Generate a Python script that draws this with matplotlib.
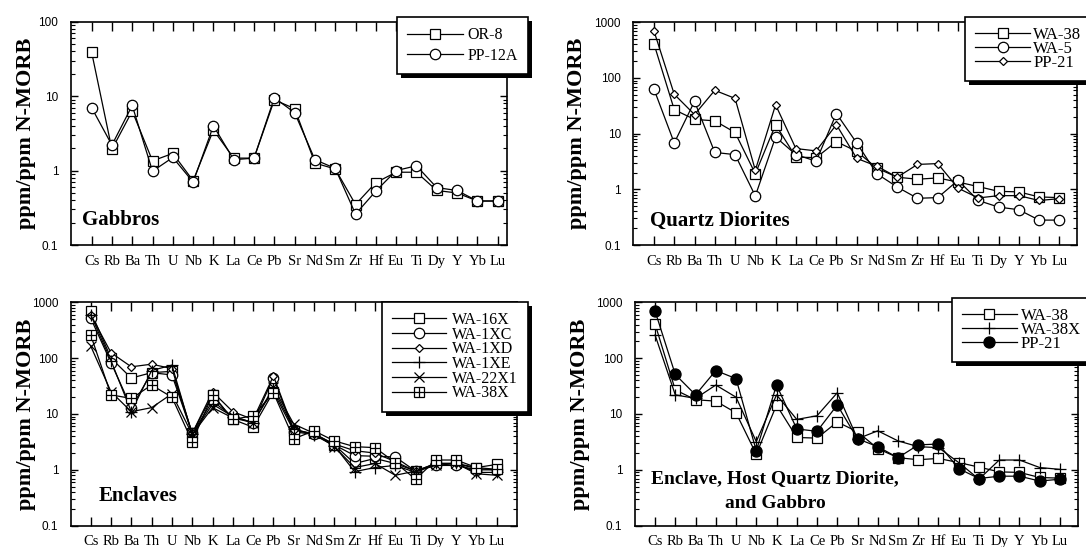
import matplotlib
matplotlib.use('Agg')
import matplotlib.pyplot as plt
import numpy as np
from matplotlib.ticker import LogLocator, NullFormatter, FuncFormatter
from matplotlib.legend_handler import HandlerTuple
from matplotlib.patches import Rectangle
from matplotlib.transforms import IdentityTransform

# ---------------- data ----------------
elements = ['Cs', 'Rb', 'Ba', 'Th', 'U', 'Nb', 'K', 'La', 'Ce', 'Pb', 'Sr',
            'Nd', 'Sm', 'Zr', 'Hf', 'Eu', 'Ti', 'Dy', 'Y', 'Yb', 'Lu']

# Gabbros
OR_8 = [39, 1.93, 6.3, 1.35, 1.7, 0.73, 3.5, 1.47, 1.47, 8.9, 6.8,
        1.26, 1.05, 0.35, 0.69, 0.95, 0.95, 0.54, 0.50, 0.39, 0.39]
PP_12A = [7.0, 2.2, 7.5, 0.98, 1.5, 0.70, 4.0, 1.40, 1.47, 9.5, 6.0,
          1.40, 1.07, 0.26, 0.53, 1.0, 1.16, 0.59, 0.54, 0.39, 0.39]

# Quartz diorites
WA_38 = [410, 27, 18, 17, 10.5, 1.9, 14.5, 3.8, 3.7, 7.2, 4.8,
         2.4, 1.65, 1.52, 1.6, 1.35, 1.12, 0.92, 0.90, 0.73, 0.71]
WA_5 = [63, 6.8, 38, 4.6, 4.2, 0.76, 8.7, 4.2, 3.2, 23, 6.8,
        1.9, 1.1, 0.69, 0.71, 1.45, 0.63, 0.48, 0.43, 0.28, 0.28]
PP_21 = [700, 51, 22, 60, 43, 2.2, 33, 5.4, 4.9, 14.5, 3.6,
         2.6, 1.65, 2.8, 2.9, 1.05, 0.70, 0.77, 0.77, 0.63, 0.68]

# Enclaves
WA_16X = [690, 100, 44, 55, 58, 4.5, 22, 8.0, 5.8, 25, 5.0,
          4.5, 2.8, 1.3, 1.6, 1.3, 0.95, 1.3, 1.3, 1.1, 1.25]
WA_1XC = [520, 83, 13, 55, 50, 4.5, 17, 9.0, 7.0, 45, 4.8,
          4.3, 2.8, 1.8, 1.75, 1.7, 0.95, 1.2, 1.2, 1.0, 1.0]
WA_1XD = [600, 125, 70, 78, 65, 4.5, 25, 11, 8.0, 48, 5.2,
          4.4, 2.9, 2.2, 2.0, 1.4, 0.95, 1.3, 1.3, 1.05, 1.0]
WA_1XE = [600, 90, 11, 60, 75, 4.3, 15, 9.0, 7.0, 28, 5.5,
          4.2, 2.7, 0.93, 1.1, 1.2, 0.90, 1.3, 1.3, 0.90, 0.90]
WA_22X1 = [165, 25, 11, 13, 23, 4.3, 13, 8.5, 7.0, 30, 6.6,
           4.5, 2.6, 1.1, 1.3, 0.80, 0.95, 1.2, 1.3, 0.85, 0.80]
WA_38X = [260, 22, 19, 33, 20, 3.2, 22, 8.0, 9.3, 24, 3.6,
          5.0, 3.3, 2.6, 2.5, 1.35, 0.68, 1.5, 1.5, 1.1, 1.02]

# ---------------- figure ----------------
W, H = 1086, 547
fig = plt.figure(figsize=(W / 100, H / 100), dpi=100)
SERIF = 'Liberation Serif'


def px_axes(x0, y0, x1, y1):
    return fig.add_axes([x0 / W, 1 - y1 / H, (x1 - x0) / W, (y1 - y0) / H])


def setup(ax, ymin, ymax, xlim):
    ax.set_yscale('log')
    ax.set_ylim(ymin, ymax)
    ax.set_xlim(*xlim)
    ax.set_xticks(np.arange(len(elements)))
    ax.set_xticklabels(elements, fontfamily=SERIF, fontsize=10.5)
    ax.yaxis.set_major_locator(LogLocator(base=10, numticks=10))
    ax.yaxis.set_minor_locator(LogLocator(base=10, subs=np.arange(2, 10), numticks=10))
    ax.yaxis.set_minor_formatter(NullFormatter())
    ax.yaxis.set_major_formatter(FuncFormatter(lambda v, p: f'{v:g}'))
    ax.tick_params(axis='y', labelsize=8.5, labelfontfamily='Liberation Sans')
    ax.tick_params(axis='x', which='major', direction='in', length=6.5, width=1,
                   top=True, bottom=True, pad=7)
    ax.tick_params(axis='y', which='major', direction='in', length=5, width=1,
                   left=True, right=True, pad=9)
    ax.tick_params(axis='y', which='minor', direction='in', length=3, width=0.8,
                   left=True, right=True)
    for s in ax.spines.values():
        s.set_linewidth(1.2)


x = np.arange(len(elements))
LW = 0.9
common = dict(color='black', lw=LW, mec='black', mew=0.9)


def sq(ax, y, **kw):
    return ax.plot(x, y, marker='s', ms=6.8, mfc='white', **common, **kw)[0]


def circ(ax, y, **kw):
    return ax.plot(x, y, marker='o', ms=7.5, mfc='white', **common, **kw)[0]


def diam(ax, y, **kw):
    return ax.plot(x, y, marker='D', ms=4.3, mfc='white', **common, **kw)[0]


def plus(ax, y, **kw):
    return ax.plot(x, y, marker='+', ms=8, **common, **kw)[0]


def cross(ax, y, **kw):
    return ax.plot(x, y, marker='x', ms=6.5, **common, **kw)[0]


def boxplus(ax, y):
    l1 = ax.plot(x, y, marker='s', ms=6.8, mfc='white', **common)[0]
    l2 = ax.plot(x, y, marker='+', ms=6.8, ls='none', color='black', mew=0.9)[0]
    return (l1, l2)


def filled(ax, y, **kw):
    return ax.plot(x, y, marker='o', ms=8, mfc='black', **common, **kw)[0]


legends = []


def add_legend(ax, handles, labels, x_px, y_px, fs, ls, hl=3.5, htp=0.3, bp=0.5):
    leg = ax.legend(handles, labels, loc='upper left',
                    bbox_to_anchor=(x_px / W, 1 - y_px / H),
                    bbox_transform=fig.transFigure, frameon=True, fancybox=False,
                    framealpha=1, edgecolor='black',
                    prop={'family': SERIF, 'size': fs}, labelspacing=ls,
                    handlelength=hl, handletextpad=htp, borderpad=bp,
                    borderaxespad=0, numpoints=1,
                    handler_map={tuple: HandlerTuple(ndivide=1)})
    leg.get_frame().set_linewidth(1.2)
    legends.append((ax, leg))
    return leg


def ftext(xp, yp, s, **kw):
    fig.text(xp / W, 1 - yp / H, s, **kw)


# ---- Panel 1: Gabbros ----
ax1 = px_axes(70.7, 21.7, 507, 245)
setup(ax1, 0.1, 100, (-1.03, 20.46))
h1 = sq(ax1, OR_8)
h2 = circ(ax1, PP_12A)
add_legend(ax1, [h1, h2], ['OR-8', 'PP-12A'], 396.7, 17.3, 11.5, 0.3, bp=0.62)
ftext(81.7, 225, 'Gabbros', family=SERIF, weight='bold', size=15, ha='left', va='baseline')

# ---- Panel 2: Quartz Diorites ----
ax2 = px_axes(633.3, 22.3, 1077, 245)
setup(ax2, 0.1, 1000, (-1.02, 20.87))
h1 = sq(ax2, WA_38)
h2 = circ(ax2, WA_5)
h3 = diam(ax2, PP_21)
add_legend(ax2, [h1, h2, h3], ['WA-38', 'WA-5', 'PP-21'], 965, 17.3, 12, -0.12,
           hl=3.3, htp=0.2, bp=0.6)
ftext(650, 226, 'Quartz Diorites', family=SERIF, weight='bold', size=15, ha='left', va='baseline')

# ---- Panel 3: Enclaves ----
ax3 = px_axes(70.7, 302.3, 517.3, 525.7)
setup(ax3, 0.1, 1000, (-0.985, 21.01))
h1 = sq(ax3, WA_16X)
h2 = circ(ax3, WA_1XC)
h3 = diam(ax3, WA_1XD)
h4 = plus(ax3, WA_1XE)
h5 = cross(ax3, WA_22X1)
h6 = boxplus(ax3, WA_38X)
add_legend(ax3, [h1, h2, h3, h4, h5, h6],
           ['WA-16X', 'WA-1XC', 'WA-1XD', 'WA-1XE', 'WA-22X1', 'WA-38X'],
           381.7, 301.5, 11.5, -0.08, hl=3.35, htp=0.4, bp=0.65)
ftext(99, 501, 'Enclaves', family=SERIF, weight='bold', size=15, ha='left', va='baseline')

# ---- Panel 4: Enclave, host quartz diorite and gabbro ----
ax4 = px_axes(635, 302.3, 1078, 525.7)
setup(ax4, 0.1, 1000, (-0.99, 20.89))
h1 = sq(ax4, WA_38)
h2 = plus(ax4, WA_38X)
h3 = filled(ax4, PP_21)
add_legend(ax4, [h1, h2, h3], ['WA-38', 'WA-38X', 'PP-21'], 951.7, 298.3, 12, -0.12,
           hl=3.3, htp=0.25, bp=0.6)
ftext(775, 483, 'Enclave, Host Quartz Diorite,', family=SERIF, weight='bold', size=14,
      ha='center', va='baseline')
ftext(775, 507.5, 'and Gabbro', family=SERIF, weight='bold', size=14,
      ha='center', va='baseline')

# y labels
for xp, yp in [(26, 133.4), (577, 133.7), (26, 414), (580, 414)]:
    ftext(xp, yp, 'ppm/ppm N-MORB', family=SERIF, weight='bold', size=16,
          rotation=90, ha='center', va='center')

# legend shadows
fig.canvas.draw()
for ax, leg in legends:
    bb = leg.get_frame().get_window_extent()
    r = Rectangle((bb.x0 + 4, bb.y0 - 4), bb.width, bb.height, transform=IdentityTransform(),
                  facecolor='black', edgecolor='none', zorder=4.9, clip_on=False)
    ax.add_artist(r)

fig.savefig('out.png', dpi=100)
